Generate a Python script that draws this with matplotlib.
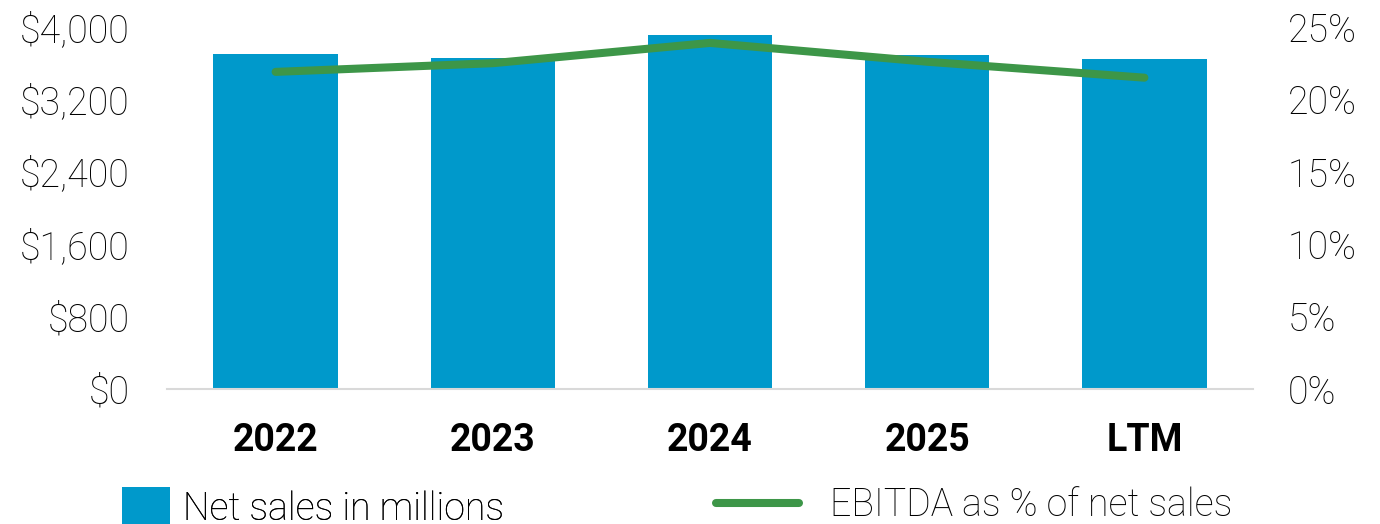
import matplotlib
matplotlib.use("Agg")
import matplotlib.pyplot as plt
from matplotlib.patches import Patch
from matplotlib.lines import Line2D
from matplotlib.ticker import FuncFormatter

categories = ["2022", "2023", "2024", "2025", "LTM"]
net_sales = [3702, 3654, 3912, 3687, 3643]
ebitda_pct = [21.9, 22.5, 23.9, 22.6, 21.5]
left_ticks = [0, 800, 1600, 2400, 3200, 4000]
right_ticks = [0, 5, 10, 15, 20, 25]

BLUE = "#0099CB"
GREEN = "#3D9648"

plt.rcParams["font.family"] = ["Roboto", "DejaVu Sans"]

W, H = 1380, 524
fig = plt.figure(figsize=(W / 100, H / 100), dpi=100)
ax = fig.add_axes([167 / W, 1 - 389 / H, (1253 - 167) / W, (389 - 27) / H])
ax2 = ax.twinx()

x = list(range(len(categories)))
ax.bar(x, net_sales, width=0.572, color=BLUE, zorder=2)
ax.set_xlim(-0.5, 4.5)
ax.set_ylim(0, 4000)
ax.set_yticks(left_ticks)
ax.yaxis.set_major_formatter(FuncFormatter(lambda v, p: f"${v:,.0f}"))
ax.set_xticks(x)
ax.set_xticklabels(categories, fontsize=27, fontweight="bold", color="black")

ax2.plot(x, ebitda_pct, color=GREEN, linewidth=5.8, solid_capstyle="round", zorder=3)
ax2.set_ylim(0, 25)
ax2.set_yticks(right_ticks)
ax2.yaxis.set_major_formatter(FuncFormatter(lambda v, p: f"{v:.0f}%"))

for a in (ax, ax2):
    for s in ("left", "right", "top", "bottom"):
        a.spines[s].set_visible(False)
    a.tick_params(length=0)
ax.spines["bottom"].set_visible(True)
ax.spines["bottom"].set_color("#D9D9D9")
ax.spines["bottom"].set_linewidth(1.5)

ax.tick_params(axis="x", pad=24)
ax.tick_params(axis="y", pad=27, labelsize=27)
ax2.tick_params(axis="y", pad=25, labelsize=27)
for lab in ax.get_yticklabels() + ax2.get_yticklabels():
    lab.set_fontweight("light")
    lab.set_color("black")

prop = {"family": ["Roboto", "DejaVu Sans"], "weight": "light", "size": 27}
leg1 = fig.legend(handles=[Patch(facecolor=BLUE, edgecolor="none")],
                  labels=["Net sales in millions"],
                  loc="upper left", bbox_to_anchor=(122 / W, 1 - 487 / H),
                  frameon=False, borderpad=0, borderaxespad=0,
                  handlelength=1.28, handleheight=1.28, handletextpad=0.35,
                  prop=prop, labelcolor="black")
leg2 = fig.legend(handles=[Line2D([0], [0], color=GREEN, linewidth=5.8, solid_capstyle="round")],
                  labels=["EBITDA as % of net sales"],
                  loc="upper left", bbox_to_anchor=(716 / W, 1 - 487 / H),
                  frameon=False, borderpad=0, borderaxespad=0,
                  handlelength=2.2, handleheight=0.7, handletextpad=0.85,
                  prop=prop, labelcolor="black")
fig.add_artist(leg1)

fig.savefig("out.png", dpi=100)
